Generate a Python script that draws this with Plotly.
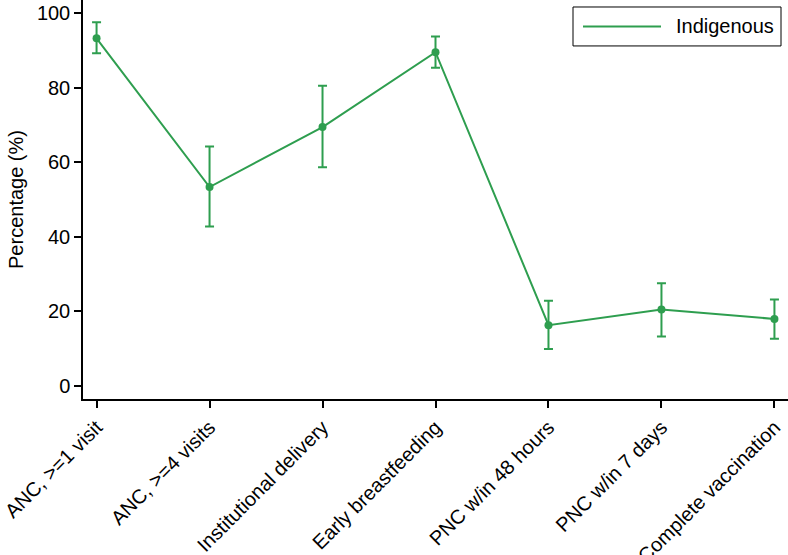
import plotly.graph_objects as go

categories = ["ANC, >=1 visit", "ANC, >=4 visits", "Institutional delivery",
              "Early breastfeeding", "PNC w/in 48 hours", "PNC w/in 7 days",
              "Complete vaccination"]
indigenous = [93.2, 53.3, 69.4, 89.5, 16.2, 20.4, 17.9]
ci_upper = [97.5, 64.2, 80.5, 93.7, 22.8, 27.5, 23.1]
ci_lower = [89.2, 42.7, 58.6, 85.3, 9.8, 13.2, 12.6]
y_ticks = [0, 20, 40, 60, 80, 100]
series_name = "Indigenous"

GREEN = "#2e9e4f"
FONT = "Liberation Sans, Arial, Helvetica, sans-serif"
xs = list(range(len(categories)))

W, H = 788, 555
L, R, T, B = 83, 0, 0, 155.5
pw, ph = W - L - R, H - T - B


def px(x):
    return (x - L) / pw


def py(y):
    return 1 - (y - T) / ph


fig = go.Figure()
fig.add_trace(go.Scatter(
    x=xs, y=indigenous, mode="lines+markers", name=series_name,
    showlegend=False,
    line=dict(color=GREEN, width=2),
    marker=dict(color=GREEN, size=8),
    error_y=dict(type="data", symmetric=False,
                 array=[u - v for u, v in zip(ci_upper, indigenous)],
                 arrayminus=[v - l for v, l in zip(indigenous, ci_lower)],
                 color=GREEN, thickness=2, width=4.5),
))

# legend box drawn manually (long line sample, no marker)
fig.add_shape(type="rect", xref="paper", yref="paper",
              x0=px(573), x1=px(781), y0=py(46), y1=py(7),
              line=dict(color="black", width=1), fillcolor="white", layer="above")
fig.add_shape(type="line", xref="paper", yref="paper",
              x0=px(583), x1=px(661), y0=py(26.5), y1=py(26.5),
              line=dict(color=GREEN, width=2), layer="above")
fig.add_annotation(xref="paper", yref="paper", x=px(674), y=py(26.5),
                   text=series_name, showarrow=False, xanchor="left", yanchor="middle",
                   font=dict(family=FONT, size=20, color="black"))

fig.update_layout(
    width=W, height=H,
    margin=dict(l=L, r=R, t=T, b=B, autoexpand=False),
    paper_bgcolor="white", plot_bgcolor="white",
    font=dict(family=FONT, size=20, color="black"),
    showlegend=False,
    xaxis=dict(range=[-0.12, 6.12], tickmode="array", tickvals=xs,
               ticktext=categories, tickangle=-45, showgrid=False, zeroline=False,
               showline=True, linecolor="black", linewidth=1.5,
               ticks="outside", ticklen=7, tickcolor="black", tickwidth=1.5,
               tickfont=dict(family=FONT, size=20), automargin=False),
    yaxis=dict(range=[-3.6, 103.5], tickvals=y_ticks, showgrid=False, zeroline=False,
               showline=True, linecolor="black", linewidth=1.5,
               ticks="outside", ticklen=7, tickcolor="black", tickwidth=1.5,
               tickfont=dict(family=FONT, size=20), automargin=False,
               title=dict(text="Percentage (%)", font=dict(family=FONT, size=20),
                          standoff=8)),
)

fig.write_html("out.html",
               config={"displayModeBar": False},
               post_script="document.body.style.margin='0';"
                           "document.body.style.overflow='hidden';")
